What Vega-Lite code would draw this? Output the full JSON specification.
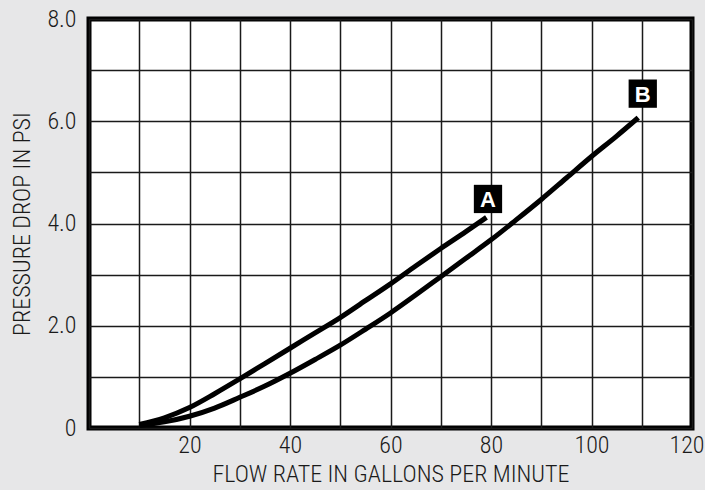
{
  "$schema": "https://vega.github.io/schema/vega-lite/v6.json",
  "width": 603,
  "height": 409,
  "autosize": {"type": "none"},
  "padding": {"left": 89, "top": 19, "right": 13, "bottom": 62},
  "background": "#e7e7e8",
  "config": {
    "view": {"stroke": "#000000", "strokeWidth": 5, "fill": "#ffffff"},
    "font": "Roboto Condensed, DejaVu Sans Condensed, sans-serif"
  },
  "datasets": {
    "curves": [
      {"series": "A", "flow": 10, "psi": 0.07},
      {"series": "A", "flow": 15, "psi": 0.2},
      {"series": "A", "flow": 20, "psi": 0.4},
      {"series": "A", "flow": 25, "psi": 0.67},
      {"series": "A", "flow": 30, "psi": 0.96},
      {"series": "A", "flow": 35, "psi": 1.26},
      {"series": "A", "flow": 40, "psi": 1.56},
      {"series": "A", "flow": 45, "psi": 1.86},
      {"series": "A", "flow": 50, "psi": 2.16},
      {"series": "A", "flow": 55, "psi": 2.49},
      {"series": "A", "flow": 60, "psi": 2.82},
      {"series": "A", "flow": 65, "psi": 3.17},
      {"series": "A", "flow": 70, "psi": 3.51},
      {"series": "A", "flow": 75, "psi": 3.84},
      {"series": "A", "flow": 79.1, "psi": 4.12},
      {"series": "B", "flow": 10, "psi": 0.05},
      {"series": "B", "flow": 15, "psi": 0.12},
      {"series": "B", "flow": 20, "psi": 0.23},
      {"series": "B", "flow": 25, "psi": 0.39},
      {"series": "B", "flow": 30, "psi": 0.6},
      {"series": "B", "flow": 35, "psi": 0.82},
      {"series": "B", "flow": 40, "psi": 1.07},
      {"series": "B", "flow": 45, "psi": 1.34},
      {"series": "B", "flow": 50, "psi": 1.62},
      {"series": "B", "flow": 55, "psi": 1.93},
      {"series": "B", "flow": 60, "psi": 2.25},
      {"series": "B", "flow": 65, "psi": 2.6},
      {"series": "B", "flow": 70, "psi": 2.96},
      {"series": "B", "flow": 75, "psi": 3.32},
      {"series": "B", "flow": 80, "psi": 3.68},
      {"series": "B", "flow": 85, "psi": 4.07},
      {"series": "B", "flow": 90, "psi": 4.47},
      {"series": "B", "flow": 95, "psi": 4.89},
      {"series": "B", "flow": 100, "psi": 5.31},
      {"series": "B", "flow": 105, "psi": 5.71},
      {"series": "B", "flow": 109.3, "psi": 6.07}
    ],
    "tags": [
      {"tag": "A", "flow": 79.4, "psi": 4.48},
      {"tag": "B", "flow": 110.2, "psi": 6.54}
    ]
  },
  "layer": [
    {
      "data": {"name": "curves"},
      "mark": {"type": "line", "stroke": "#000000", "strokeWidth": 5, "interpolate": "monotone"},
      "encoding": {
        "x": {
          "field": "flow", "type": "quantitative",
          "scale": {"domain": [0, 120], "nice": false},
          "axis": {
            "values": [0, 10, 20, 30, 40, 50, 60, 70, 80, 90, 100, 110, 120],
            "labelExpr": "datum.value % 20 == 0 && datum.value > 0 ? datum.label : ''",
            "ticks": false, "domain": false, "grid": true,
            "gridColor": "#1a1a1a", "gridWidth": 1.5, "gridOpacity": 1,
            "labelFont": "Roboto Condensed, DejaVu Sans Condensed, sans-serif", "labelFontSize": 24, "labelFontWeight": 300, "labelColor": "#1a1a1a",
            "labelPadding": 5, "labelFlush": true, "labelFlushOffset": 12, "labelOverlap": false,
            "title": "FLOW RATE IN GALLONS PER MINUTE",
            "titleFont": "Roboto Condensed, DejaVu Sans Condensed, sans-serif", "titleFontSize": 24, "titleFontWeight": 300,
            "titleColor": "#1a1a1a", "titleY": 46, "titleBaseline": "middle"
          }
        },
        "y": {
          "field": "psi", "type": "quantitative",
          "scale": {"domain": [0, 8], "nice": false},
          "axis": {
            "values": [0, 1, 2, 3, 4, 5, 6, 7, 8],
            "labelExpr": "datum.value % 2 == 0 ? (datum.value == 0 ? '0' : format(datum.value, '.1f')) : ''",
            "ticks": false, "domain": false, "grid": true,
            "gridColor": "#1a1a1a", "gridWidth": 1.5, "gridOpacity": 1,
            "labelFont": "Roboto Condensed, DejaVu Sans Condensed, sans-serif", "labelFontSize": 24, "labelFontWeight": 300, "labelColor": "#1a1a1a",
            "labelPadding": 13, "labelOverlap": false, "labelFlush": false,
            "title": "PRESSURE DROP  IN PSI",
            "titleFont": "Roboto Condensed, DejaVu Sans Condensed, sans-serif", "titleFontSize": 24, "titleFontWeight": 300,
            "titleColor": "#1a1a1a", "titleX": -67, "titleY": 204.5, "titleBaseline": "middle", "titleAngle": -90
          }
        },
        "detail": {"field": "series"}
      }
    },
    {
      "data": {"name": "tags"},
      "mark": {"type": "square", "size": 800, "color": "#000000", "filled": true, "opacity": 1},
      "encoding": {
        "x": {"field": "flow", "type": "quantitative"},
        "y": {"field": "psi", "type": "quantitative"}
      }
    },
    {
      "data": {"name": "tags"},
      "mark": {"type": "text", "color": "#ffffff", "font": "Liberation Sans", "fontSize": 22, "fontWeight": "bold", "baseline": "middle", "align": "center", "dy": 1},
      "encoding": {
        "x": {"field": "flow", "type": "quantitative"},
        "y": {"field": "psi", "type": "quantitative"},
        "text": {"field": "tag"}
      }
    }
  ]
}
